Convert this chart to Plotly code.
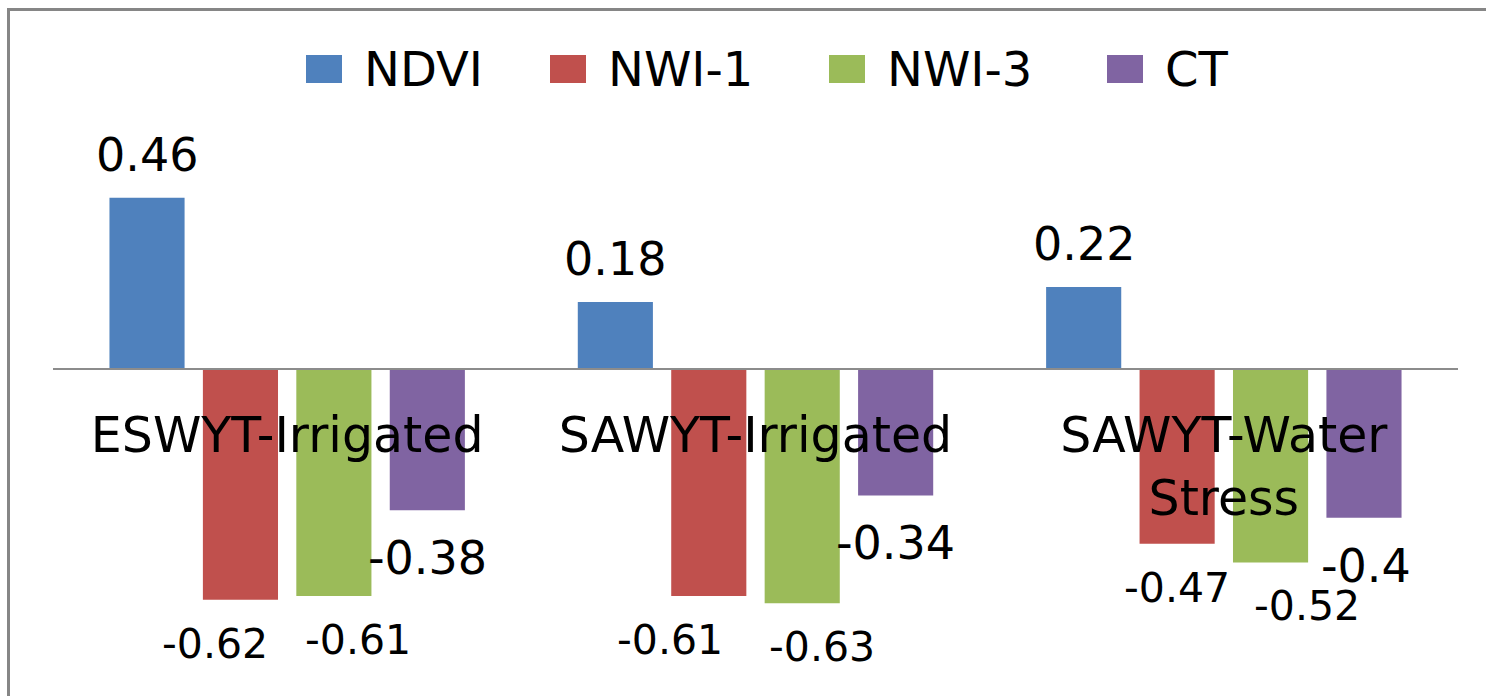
import plotly.graph_objects as go

# ---- data ----
categories = ["ESWYT-Irrigated", "SAWYT-Irrigated", "SAWYT-Water<br>Stress"]
series_names = ["NDVI", "NWI-1", "NWI-3", "CT"]
ndvi = [0.46, 0.18, 0.22]
nwi1 = [-0.62, -0.61, -0.47]
nwi3 = [-0.61, -0.63, -0.52]
ct = [-0.38, -0.34, -0.40]
series_values = [ndvi, nwi1, nwi3, ct]

# ---- style ----
COLORS = ["#4F81BD", "#C0504D", "#9BBB59", "#8064A2"]
FONT = "DejaVu Sans"
W, H = 1486, 696
L, R, T, B = 53, 28, 110, 16
Y_RANGE = [-0.836, 0.696]
BARGAP = 0.202
BARGROUPGAP = 0.196

# value-label styling per series: font size, vertical offset (px)
LABEL_SIZE = [46, 41, 41, 46]
LABEL_DY = [43, -44, -44, -48]
# horizontal nudges (px) per series and category, keeps labels apart
LABEL_DX = [
    [0, 0, 0],
    [-25, -39, 0],
    [24, 20, 36],
    [0, 0, 2],
]

# legend swatch left edges (px), swatch size, legend row centre
LEGEND_X = [306, 550, 829, 1107]
SW_W, SW_H = 36, 28
LEGEND_Y = 69


def px_x(p):
    return (p - L) / (W - L - R)


def px_y(p):
    return (H - B - p) / (H - T - B)


fig = go.Figure()
x_idx = list(range(len(categories)))

for name, vals, color in zip(series_names, series_values, COLORS):
    fig.add_trace(go.Bar(
        x=x_idx, y=vals, name=name,
        marker=dict(color=color, line=dict(width=0)),
        showlegend=False,
    ))

# value labels, anchored on each bar's end
n = len(series_names)
slot = (1 - BARGAP) / n
annotations = []
for si, vals in enumerate(series_values):
    off = (si - (n - 1) / 2) * slot
    for ci, v in enumerate(vals):
        annotations.append(dict(
            x=ci + off, y=v, xref="x", yref="y",
            text=f"{v:g}", showarrow=False,
            xanchor="center", yanchor="middle",
            xshift=LABEL_DX[si][ci], yshift=LABEL_DY[si],
            font=dict(family=FONT, size=LABEL_SIZE[si], color="#000000"),
        ))

# legend row
shapes = []
for name, color, x0 in zip(series_names, COLORS, LEGEND_X):
    shapes.append(dict(
        type="rect", xref="paper", yref="paper",
        x0=px_x(x0), x1=px_x(x0 + SW_W),
        y0=px_y(LEGEND_Y + SW_H / 2), y1=px_y(LEGEND_Y - SW_H / 2),
        fillcolor=color, line=dict(width=0),
    ))
    annotations.append(dict(
        x=px_x(x0 + SW_W + 20), y=px_y(LEGEND_Y), xref="paper", yref="paper",
        text=name, showarrow=False, xanchor="left", yanchor="middle",
        font=dict(family=FONT, size=48, color="#000000"),
    ))

# chart frame
shapes.append(dict(
    type="rect", xref="paper", yref="paper",
    x0=px_x(8.5), x1=px_x(W + 20), y0=px_y(H + 20), y1=px_y(9.5),
    line=dict(color="#868686", width=3), fillcolor="rgba(0,0,0,0)",
    layer="above",
))

zero_pos = (0 - Y_RANGE[0]) / (Y_RANGE[1] - Y_RANGE[0])

fig.update_layout(
    width=W, height=H,
    margin=dict(l=L, r=R, t=T, b=B),
    paper_bgcolor="white", plot_bgcolor="white",
    barmode="group", bargap=BARGAP, bargroupgap=BARGROUPGAP,
    font=dict(family=FONT, color="#000000"),
    shapes=shapes, annotations=annotations,
    xaxis=dict(
        tickmode="array", tickvals=x_idx, ticktext=categories,
        range=[-0.5, len(categories) - 0.5],
        anchor="free", position=zero_pos,
        showline=True, linecolor="#8c8c8c", linewidth=2,
        ticks="", ticklabelstandoff=23,
        tickfont=dict(family=FONT, size=49, color="#000000"),
        showgrid=False, zeroline=False, fixedrange=True,
    ),
    yaxis=dict(
        range=Y_RANGE, visible=False, showgrid=False, zeroline=False,
        fixedrange=True,
    ),
)

fig.write_html("out.html")
